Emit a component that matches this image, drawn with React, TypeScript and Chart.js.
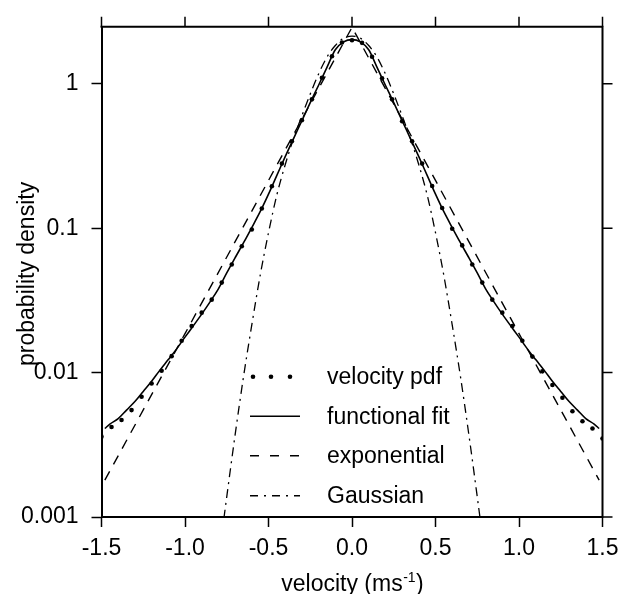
import React, { useEffect, useRef } from "react";
import { Chart, registerables } from "chart.js";

Chart.register(...registerables);

const FONT = '"Liberation Sans", Arial, Helvetica, sans-serif';

// axis ticks
const xTicks = [-1.5, -1.0, -0.5, 0, 0.5, 1.0, 1.5];
const yTicks = [0.001, 0.01, 0.1, 1];
const yTickLabels = ["0.001", "0.01", "0.1", "1"];

// velocity pdf (dots)
const pdfX = [
  -1.5, -1.44, -1.38, -1.32, -1.26, -1.2, -1.14, -1.08, -1.02, -0.96, -0.9, -0.84, -0.78,
  -0.72, -0.66, -0.6, -0.54, -0.48, -0.42, -0.36, -0.3, -0.24, -0.18, -0.12, -0.06, 0,
  0.06, 0.12, 0.18, 0.24, 0.3, 0.36, 0.42, 0.48, 0.54, 0.6, 0.66, 0.72, 0.78, 0.84, 0.9,
  0.96, 1.02, 1.08, 1.14, 1.2, 1.26, 1.32, 1.38, 1.44, 1.5,
];
const pdfY = [
  0.0036, 0.0042, 0.0047, 0.0055, 0.0068, 0.0084, 0.0103, 0.013, 0.0166, 0.021, 0.026, 0.032,
  0.042, 0.056, 0.075, 0.098, 0.137, 0.195, 0.28, 0.4, 0.56, 0.78, 1.1, 1.55, 1.93, 2.0,
  1.92, 1.54, 1.09, 0.78, 0.55, 0.4, 0.28, 0.196, 0.138, 0.099, 0.076, 0.056, 0.042, 0.032,
  0.026, 0.021, 0.0166, 0.0129, 0.0102, 0.0082, 0.0067, 0.0054, 0.0046, 0.0041, 0.0035,
];

// functional fit (solid)
const fitX = [
  -1.48, -1.45, -1.4, -1.35, -1.3, -1.25, -1.2, -1.15, -1.1, -1.05, -1.0, -0.95, -0.9, -0.85,
  -0.8, -0.75, -0.7, -0.65, -0.6, -0.55, -0.5, -0.45, -0.4, -0.35, -0.3, -0.25, -0.2, -0.15,
  -0.1, -0.05, 0, 0.05, 0.1, 0.15, 0.2, 0.25, 0.3, 0.35, 0.4, 0.45, 0.5, 0.55, 0.6, 0.65, 0.7,
  0.75, 0.8, 0.85, 0.9, 0.95, 1.0, 1.05, 1.1, 1.15, 1.2, 1.25, 1.3, 1.35, 1.4, 1.45, 1.48,
];
const fitY = [
  0.0041, 0.0044, 0.0048, 0.0055, 0.0063, 0.0074, 0.0087, 0.0104, 0.0123, 0.0146, 0.0176,
  0.0211, 0.0254, 0.0309, 0.038, 0.049, 0.0624, 0.079, 0.101, 0.13, 0.172, 0.232, 0.313, 0.417,
  0.556, 0.741, 0.977, 1.3, 1.72, 1.95, 2.02, 1.95, 1.72, 1.3, 0.977, 0.741, 0.556, 0.417,
  0.313, 0.232, 0.172, 0.13, 0.101, 0.079, 0.0624, 0.049, 0.038, 0.0309, 0.0254, 0.0211,
  0.0176, 0.0146, 0.0123, 0.0104, 0.0087, 0.0074, 0.0063, 0.0055, 0.0048, 0.0044, 0.0041,
];

// exponential (dashed)
const expX = [-1.48, -1.0, -0.5, 0, 0.5, 1.0, 1.48];
const expY = [0.0018, 0.0186, 0.214, 2.46, 0.214, 0.0186, 0.0018];

// Gaussian (dash-dot)
const gaussX = [
  -0.8, -0.75, -0.7, -0.65, -0.6, -0.55, -0.5, -0.45, -0.4, -0.35, -0.3, -0.25, -0.2, -0.15,
  -0.1, -0.05, 0, 0.05, 0.1, 0.15, 0.2, 0.25, 0.3, 0.35, 0.4, 0.45, 0.5, 0.55, 0.6, 0.65, 0.7,
  0.75, 0.8,
];
const gaussY = [
  0.0005, 0.00138, 0.0037, 0.0093, 0.0214, 0.047, 0.093, 0.17, 0.275, 0.417, 0.6, 0.85, 1.17,
  1.53, 1.84, 2.07, 2.14, 2.07, 1.84, 1.53, 1.17, 0.85, 0.6, 0.417, 0.275, 0.17, 0.093, 0.047,
  0.0214, 0.0093, 0.0037, 0.00138, 0.0005,
];

const legendLabels = ["velocity pdf", "functional fit", "exponential", "Gaussian"];
const xTitleMain = "velocity (ms";
const xTitleSup = "-1";
const xTitleEnd = ")";
const yTitle = "probability density";

const toPts = (xs: number[], ys: number[]) => xs.map((x, i) => ({ x, y: ys[i] }));

export default function App() {
  const ref = useRef<HTMLCanvasElement>(null);

  useEffect(() => {
    const canvas = ref.current;
    if (!canvas) return;

    const framePlugin = {
      id: "framePlugin",
      afterDraw(chart: any) {
        const { ctx, chartArea: a, scales } = chart;
        ctx.save();
        ctx.strokeStyle = "#000";
        ctx.fillStyle = "#000";
        // top and right frame
        ctx.lineWidth = 2;
        ctx.setLineDash([]);
        ctx.beginPath();
        ctx.moveTo(a.left - 1, a.top);
        ctx.lineTo(a.right, a.top);
        ctx.lineTo(a.right, a.bottom + 1);
        ctx.stroke();
        // mirrored ticks
        ctx.lineWidth = 1.5;
        ctx.beginPath();
        xTicks.forEach((v) => {
          const px = scales.x.getPixelForValue(v);
          ctx.moveTo(px, a.top);
          ctx.lineTo(px, a.top - 10);
        });
        yTicks.forEach((v) => {
          const py = scales.y.getPixelForValue(v);
          ctx.moveTo(a.right, py);
          ctx.lineTo(a.right + 10, py);
        });
        ctx.stroke();

        // legend
        const lx0 = a.left + 148.5;
        const lx1 = lx0 + 50;
        const tx = a.left + 225.5;
        const rows = [350, 389.5, 429, 469].map((d) => a.top + d);
        ctx.font = `23px ${FONT}`;
        ctx.textBaseline = "middle";
        ctx.textAlign = "left";
        legendLabels.forEach((lab, i) => {
          const y = rows[i];
          ctx.fillText(lab, tx, y + 1);
          if (i === 0) {
            [lx0 + 3, lx0 + 21, lx0 + 40].forEach((dx) => {
              ctx.beginPath();
              ctx.arc(dx, y, 2.3, 0, Math.PI * 2);
              ctx.fill();
            });
          } else {
            ctx.lineWidth = i === 1 ? 1.6 : 1.4;
            ctx.setLineDash(i === 1 ? [] : i === 2 ? [9, 11] : [8, 6, 2, 6]);
            ctx.beginPath();
            ctx.moveTo(lx0, y);
            ctx.lineTo(lx1, y);
            ctx.stroke();
          }
        });
        ctx.setLineDash([]);

        // x title with superscript
        const cx = (a.left + a.right) / 2;
        const ty = 583;
        ctx.font = `23px ${FONT}`;
        const w1 = ctx.measureText(xTitleMain).width;
        const w3 = ctx.measureText(xTitleEnd).width;
        ctx.font = `14px ${FONT}`;
        const w2 = ctx.measureText(xTitleSup).width;
        const start = cx - (w1 + w2 + w3) / 2;
        ctx.textBaseline = "alphabetic";
        ctx.font = `23px ${FONT}`;
        ctx.fillText(xTitleMain, start, ty + 8);
        ctx.font = `14px ${FONT}`;
        ctx.fillText(xTitleSup, start + w1 + 0.5, ty - 1);
        ctx.font = `23px ${FONT}`;
        ctx.fillText(xTitleEnd, start + w1 + w2 + 1, ty + 8);

        // y title
        ctx.translate(34, (a.top + a.bottom) / 2 + 2);
        ctx.rotate(-Math.PI / 2);
        ctx.textAlign = "center";
        ctx.textBaseline = "alphabetic";
        ctx.font = `23px ${FONT}`;
        ctx.fillText(yTitle, 0, 0);
        ctx.restore();
      },
    };

    const chart = new Chart(canvas, {
      type: "scatter",
      data: {
        datasets: [
          {
            label: legendLabels[0],
            data: toPts(pdfX, pdfY),
            showLine: false,
            pointRadius: 2.3,
            pointBackgroundColor: "#000",
            pointBorderWidth: 0,
            pointBorderColor: "#000",
          },
          {
            label: legendLabels[1],
            data: toPts(fitX, fitY),
            showLine: true,
            borderColor: "#000",
            borderWidth: 1.6,
            pointRadius: 0,
            cubicInterpolationMode: "monotone",
          },
          {
            label: legendLabels[2],
            data: toPts(expX, expY),
            showLine: true,
            borderColor: "#000",
            borderWidth: 1.4,
            borderDash: [10, 8],
            pointRadius: 0,
            tension: 0,
          },
          {
            label: legendLabels[3],
            data: toPts(gaussX, gaussY),
            showLine: true,
            borderColor: "#000",
            borderWidth: 1.3,
            borderDash: [9, 5, 2, 5],
            pointRadius: 0,
            cubicInterpolationMode: "monotone",
          },
        ],
      } as any,
      options: {
        responsive: false,
        animation: false,
        layout: { padding: { left: 0, right: 24.5, top: 19, bottom: 0 } },
        plugins: { legend: { display: false }, tooltip: { enabled: false } },
        scales: {
          x: {
            type: "linear",
            min: -1.5,
            max: 1.5,
            afterBuildTicks: (s: any) => {
              s.ticks = xTicks.map((v) => ({ value: v }));
            },
            afterFit: (s: any) => {
              s.height = 77;
            },
            ticks: {
              callback: (v: any) => Number(v).toFixed(1),
              color: "#000",
              font: { size: 23, family: FONT },
              padding: 8,
              maxRotation: 0,
              autoSkip: false,
            },
            grid: {
              drawOnChartArea: false,
              drawTicks: true,
              tickLength: 10,
              tickColor: "#000",
              tickWidth: 1.5,
              color: "#000",
            },
            border: { display: true, color: "#000", width: 2 },
          },
          y: {
            type: "logarithmic",
            min: 0.001,
            max: 2.48,
            afterBuildTicks: (s: any) => {
              s.ticks = yTicks.map((v) => ({ value: v }));
            },
            afterFit: (s: any) => {
              s.width = 101.5;
            },
            ticks: {
              callback: (v: any) => {
                const i = yTicks.findIndex((t) => Math.abs(t - Number(v)) < t * 1e-6);
                return i >= 0 ? yTickLabels[i] : "";
              },
              color: "#000",
              font: { size: 23, family: FONT },
              padding: 13,
              autoSkip: false,
            },
            grid: {
              drawOnChartArea: false,
              drawTicks: true,
              tickLength: 10,
              tickColor: "#000",
              tickWidth: 1.5,
              color: "#000",
            },
            border: { display: true, color: "#000", width: 2 },
          },
        },
      } as any,
      plugins: [framePlugin],
    });

    return () => chart.destroy();
  }, []);

  return (
    <div
      style={{
        position: "fixed",
        left: 0,
        top: 0,
        width: 627,
        height: 594,
        background: "#fff",
      }}
    >
      <canvas ref={ref} width={627} height={594} style={{ display: "block" }} />
    </div>
  );
}
